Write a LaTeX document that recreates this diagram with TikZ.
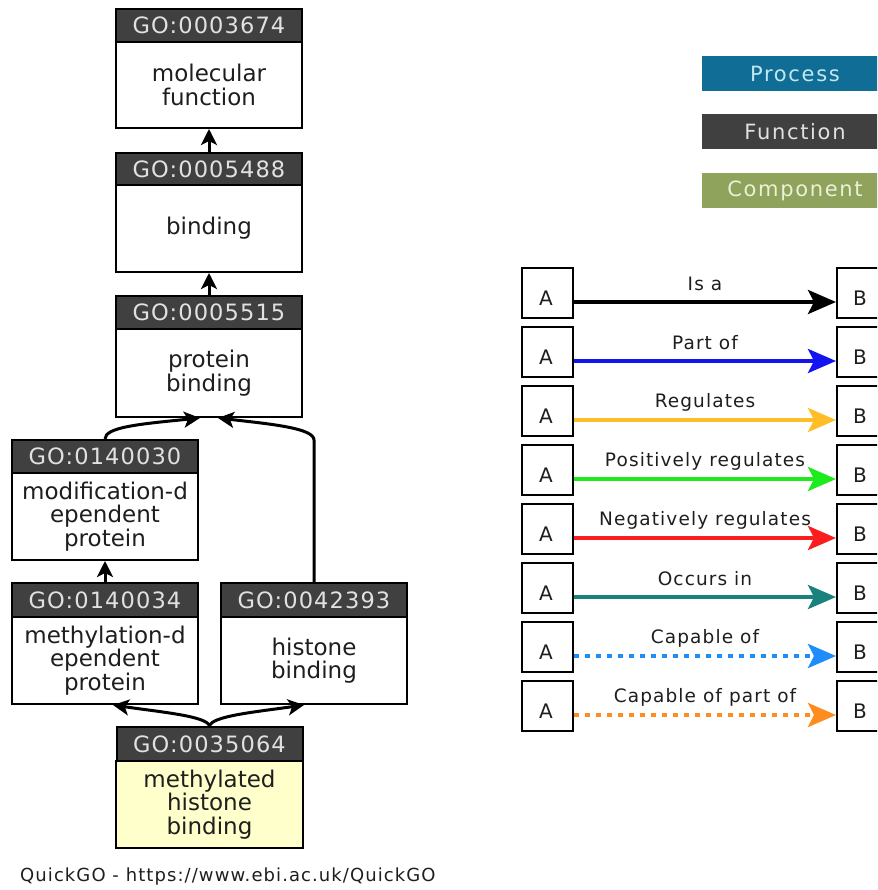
\documentclass[tikz,border=0pt]{standalone}
\usepackage{fontspec}
\setmainfont{DejaVu Sans}
\newfontfamily\lsfont{DejaVu Sans}[LetterSpace=6]
\newfontfamily\hlsfont{DejaVu Sans}[LetterSpace=5]
\newfontfamily\wlsfont{DejaVu Sans}[LetterSpace=8]
\usetikzlibrary{arrows.meta}
\definecolor{hdrgray}{RGB}{64,64,64}
\definecolor{hdrtext}{RGB}{225,225,225}
\definecolor{termyellow}{RGB}{255,255,204}
\definecolor{procblue}{RGB}{16,110,150}
\definecolor{proctext}{RGB}{195,230,240}
\definecolor{compgreen}{RGB}{143,163,93}
\definecolor{comptext}{RGB}{235,240,215}
\definecolor{partblue}{RGB}{20,20,240}
\definecolor{regamber}{RGB}{255,190,40}
\definecolor{posgreen}{RGB}{30,235,30}
\definecolor{negred}{RGB}{250,30,30}
\definecolor{occteal}{RGB}{25,130,125}
\definecolor{capblue}{RGB}{30,140,250}
\definecolor{caporange}{RGB}{255,140,30}
\definecolor{textdark}{RGB}{30,30,30}
\begin{document}
\begin{tikzpicture}[x=1pt,y=-1pt,
  hdr/.style={draw=black, line width=2pt, fill=hdrgray, text=hdrtext, minimum width=186pt, inner sep=0pt, font=\hlsfont\fontsize{22.5}{23}\selectfont},
  bodybox/.style={draw=black, line width=2pt, fill=white, text=textdark, minimum width=186pt, inner sep=0pt, align=center, font=\fontsize{23}{23.5}\selectfont},
  garrow/.style={line width=3pt, -{Stealth[length=16pt,width=16pt,inset=4pt]}},
  legbox/.style={minimum width=186pt, minimum height=35pt, inner sep=0pt, font=\wlsfont\fontsize{21}{22}\selectfont},
  relbox/.style={draw=black, line width=2pt, minimum width=51pt, minimum height=50pt, inner sep=0pt},
  letter/.style={font=\fontsize{20}{20}\selectfont, text=textdark, inner sep=0pt},
  lbl/.style={font=\lsfont\fontsize{18.5}{19}\selectfont, text=textdark, inner sep=0pt},
  relarrow/.style={line width=4pt, -{Stealth[length=28pt,width=24pt,inset=6pt]}},
  reldot/.style={dash pattern=on 5pt off 6pt}
]
\useasboundingbox (0,0) rectangle (877,890);
\clip (0,0) rectangle (877,890);

% GO term boxes
\node[hdr, minimum height=33pt] (h1) at (209,25.5) {GO:0003674};
\node[bodybox, minimum height=86pt] (b1) at (209,85) {molecular\\function};

\node[hdr, minimum height=32pt] (h2) at (209,169) {GO:0005488};
\node[bodybox, minimum height=87pt] (b2) at (209,228.5) {binding};

\node[hdr, minimum height=33pt] (h3) at (209,312.5) {GO:0005515};
\node[bodybox, minimum height=88pt] (b3) at (209,373) {protein\\binding};

\node[hdr, minimum height=33pt] (h4) at (105,456.5) {GO:0140030};
\node[bodybox, minimum height=87pt] (b4) at (105,516.5) {modification-d\\ependent\\protein};

\node[hdr, minimum height=34pt] (h5) at (105,600) {GO:0140034};
\node[bodybox, minimum height=87pt] (b5) at (105,660.5) {methylation-d\\ependent\\protein};

\node[hdr, minimum height=34pt] (h6) at (314,600) {GO:0042393};
\node[bodybox, minimum height=87pt] (b6) at (314,660.5) {histone\\binding};

\node[hdr, minimum height=34pt] (h7) at (209.5,744) {GO:0035064};
\node[bodybox, fill=termyellow, minimum height=87pt, minimum width=187pt] (b7) at (209.5,804.5) {methylated\\histone\\binding};

% graph connectors
\draw[garrow] (h2.north) -- (b1.south);
\draw[garrow] (h3.north) -- (b2.south);
\draw[garrow] (h5.north) -- (b4.south);
\draw[garrow] (h4.north) .. controls (105,427) and (140,424) .. ([xshift=-9pt]b3.south);
\draw[garrow] (h6.north) -- (314,440) .. controls (314,428) and (270,424) .. ([xshift=9pt]b3.south);
\draw[garrow] (h7.north) .. controls (207,716) and (160,712) .. ([xshift=8pt]b5.south);
\draw[garrow] (h7.north) .. controls (212,716) and (255,712) .. ([xshift=-10pt]b6.south);

\node[anchor=base west, inner sep=0pt, text=textdark, font=\lsfont\fontsize{18}{18}\selectfont] (quick) at (20,881) {QuickGO - https://www.ebi.ac.uk/QuickGO};

% aspect legend
\node[legbox, fill=procblue, text=proctext] (lp) at (795,73.5) {Process};
\node[legbox, fill=hdrgray, text=hdrtext] (lf) at (795,132) {Function};
\node[legbox, fill=compgreen, text=comptext] (lc) at (795,190.5) {Component};

% relation legend
\foreach \i/\lab/\col/\pat in {0/Is a/black/solid, 1/Part of/partblue/solid, 2/Regulates/regamber/solid, 3/Positively regulates/posgreen/solid, 4/Negatively regulates/negred/solid, 5/Occurs in/occteal/solid, 6/Capable of/capblue/reldot, 7/Capable of part of/caporange/reldot}{
  \pgfmathsetmacro\t{268+59*\i}
  \node[relbox] (ra\i) at (547.5,{\t+25}) {};
  \node[relbox] (rb\i) at (862.5,{\t+25}) {};
  \node[letter] (ta\i) at (546,{\t+30}) {A};
  \node[letter] (tb\i) at (860,{\t+30}) {B};
  \draw[relarrow, draw=\col, \pat] ([yshift=-9pt]ra\i.east) -- ([yshift=-9pt]rb\i.west);
  \node[lbl] (lb\i) at (705,{\t+16}) {\lab};
}
\end{tikzpicture}
\end{document}
